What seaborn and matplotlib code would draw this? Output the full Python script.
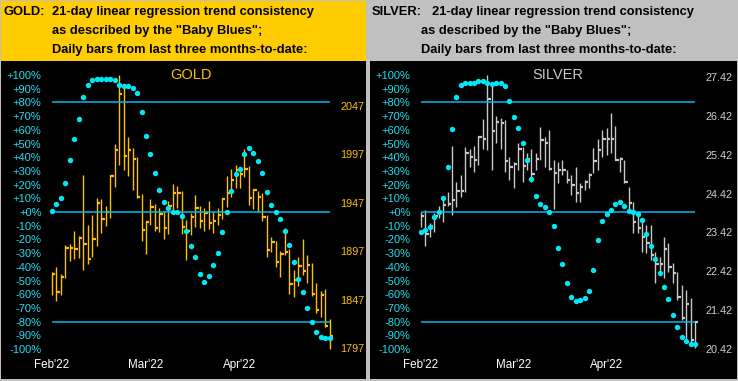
import numpy as np
import pandas as pd
import matplotlib
matplotlib.use("Agg")
import matplotlib.pyplot as plt
from matplotlib.patches import Rectangle
import seaborn as sns

sns.set_theme(style="dark")
plt.rcParams['font.family'] = ['Liberation Sans', 'DejaVu Sans']

W, H = 738, 381

# ---- data ----
gold_high = [1875.4, 1880.5, 1873.0, 1903.3, 1904.3, 1917.7, 1912.6, 1975.6, 1923.9, 1934.3,
             1951.8, 1950.8, 1943.6, 1975.2, 2007.6, 2078.6, 2068.9, 2014.8, 2003.5, 1994.2,
             1956.0, 1928.4, 1950.8, 1946.0, 1941.8, 1938.4, 1948.7, 1966.3, 1964.2, 1959.1,
             1929.1, 1936.3, 1954.9, 1943.6, 1941.8, 1948.7, 1937.4, 1941.5, 1951.8, 1974.6,
             1981.8, 1985.9, 1983.5, 2002.1, 1984.9, 1960.8, 1959.4, 1957.0, 1934.6, 1911.5,
             1907.0, 1896.7, 1920.8, 1899.5, 1877.4, 1890.9, 1909.8, 1892.9, 1884.7, 1864.0,
             1856.1, 1857.5, 1826.8]
gold_low = [1851.3, 1845.1, 1851.3, 1869.5, 1886.7, 1889.1, 1890.2, 1877.8, 1884.0, 1890.9,
            1902.6, 1915.7, 1923.2, 1931.5, 1963.2, 1986.3, 1981.1, 1974.9, 1960.4, 1952.2,
            1907.4, 1894.3, 1923.9, 1917.7, 1916.7, 1909.8, 1915.0, 1937.0, 1941.5, 1915.0,
            1888.1, 1913.9, 1921.9, 1921.2, 1918.1, 1920.1, 1916.0, 1923.6, 1930.5, 1942.9,
            1953.2, 1962.5, 1962.2, 1973.9, 1944.9, 1940.5, 1937.4, 1928.1, 1890.9, 1896.0,
            1880.9, 1870.5, 1892.6, 1853.0, 1849.2, 1860.6, 1871.9, 1864.3, 1850.2, 1833.3,
            1828.9, 1818.5, 1796.1]
gold_close = [1873.0, 1854.7, 1870.2, 1900.5, 1900.5, 1899.5, 1910.8, 1904.6, 1889.1, 1909.8,
              1947.0, 1930.5, 1937.4, 1974.9, 2001.8, 2058.6, 1995.2, 2001.8, 1992.5, 1953.2,
              1919.1, 1927.0, 1942.9, 1921.2, 1935.6, 1921.2, 1943.6, 1957.0, 1957.0, 1922.2,
              1917.7, 1932.5, 1941.8, 1928.4, 1936.7, 1926.3, 1928.4, 1934.6, 1950.4, 1957.3,
              1970.1, 1981.1, 1976.6, 1982.1, 1951.8, 1960.4, 1953.2, 1932.5, 1898.4, 1906.0,
              1886.0, 1894.3, 1896.4, 1862.6, 1867.4, 1881.9, 1876.7, 1882.3, 1853.0, 1836.4,
              1851.9, 1819.9, 1809.6]
gold_blues = [1, 6, 10.4, 21, 38, 53, 68, 84, 93, 96.5,
              97, 97, 97, 97, 96.5, 92.6, 92, 92, 90.4, 86.8,
              73, 55.5, 42.4, 28.6, 16.2, 7.5, 2.7, 0.2, 0.2, -2.7,
              -13.6, -25, -33.2, -45.3, -51.2, -47, -39, -29.6, -14.3, 0.2,
              15.5, 27.9, 31.5, 42.4, 46.8, 43.2, 37.3, 28.6, 14.8, 5.3,
              0.2, -4.8, -13.6, -23.8, -36.8, -49.2, -58.7, -70.3, -80.5, -87.8,
              -91.4, -92.1, -92.1]

silver_high = [23.95, 24.00, 23.65, 23.93, 24.11, 24.37, 24.45, 25.65, 24.73, 24.90,
               25.61, 25.56, 25.65, 25.91, 26.34, 27.48, 27.25, 26.42, 26.36, 26.32,
               25.37, 25.24, 25.72, 25.61, 25.46, 25.56, 25.46, 26.13, 25.89, 26.06,
               25.29, 25.24, 25.29, 25.03, 24.90, 25.11, 24.69, 24.77, 24.94, 25.59,
               25.84, 26.06, 26.10, 26.49, 26.16, 25.37, 25.29, 24.60, 24.21, 23.91,
               23.74, 23.61, 23.61, 22.92, 22.79, 23.31, 23.14, 22.62, 22.41, 22.06,
               21.93, 21.73, 21.12]
silver_low = [23.55, 23.08, 23.31, 23.44, 23.78, 23.70, 24.10, 23.87, 24.08, 24.34,
              24.47, 25.11, 24.99, 25.16, 25.56, 25.54, 25.03, 25.72, 25.58, 24.99,
              24.77, 24.56, 25.03, 24.73, 25.03, 24.71, 25.03, 25.29, 25.11, 25.03,
              24.02, 24.69, 24.90, 24.69, 24.38, 24.21, 24.21, 24.51, 24.56, 24.94,
              25.03, 25.37, 25.42, 25.46, 25.29, 24.99, 24.70, 24.00, 23.41, 23.41,
              22.92, 22.88, 22.71, 22.11, 22.32, 22.24, 22.41, 22.11, 21.68, 21.16,
              20.64, 20.56, 20.43]
silver_close = [23.85, 23.38, 23.58, 23.85, 23.95, 24.13, 24.15, 24.26, 24.50, 24.50,
                25.48, 25.37, 25.29, 25.87, 25.84, 26.86, 26.04, 26.26, 26.25, 25.27,
                25.10, 25.18, 25.56, 25.13, 25.31, 24.92, 25.31, 25.80, 25.73, 25.05,
                24.94, 25.03, 25.03, 24.77, 24.64, 24.44, 24.60, 24.73, 24.90, 25.27,
                25.54, 25.82, 25.83, 25.84, 25.29, 25.31, 24.71, 24.19, 23.70, 23.53,
                23.31, 23.15, 22.84, 22.60, 22.60, 22.99, 22.54, 22.38, 21.76, 21.20,
                21.57, 20.64, 21.10]
silver_blues = [-14.5, -13, -11, -4, 0, 10, 32.7, 60.3, 84, 93,
                94.5, 94, 94.5, 95.3, 95.3, 94, 93.3, 93.8, 94, 91.8,
                81, 69.3, 61.3, 50.4, 38, 24.2, 11.9, 6, 3.9, 0.2,
                -10, -26, -37.6, -52, -62.3, -65.2, -64.5, -63, -58, -42.7,
                -20.4, -6.5, -1.5, 1.5, 5.8, 7.3, 4.4, 0.7, 0, -1.5,
                -5.8, -16, -24.7, -34.2, -44.4, -54.5, -63.3, -74.9, -83.6, -90.9,
                -94.5, -96, -96]

month_labels = ["Feb'22", "Mar'22", "Apr'22"]
month_pos = [0, 21, 42]
pct_ticks = list(range(-100, 101, 10))
pct_lines = [80, 0, -80]
gold_price_ticks = [1797, 1847, 1897, 1947, 1997, 2047]
silver_price_ticks = [20.42, 21.42, 22.42, 23.42, 24.42, 25.42, 26.42, 27.42]

gold_header = ["21-day linear regression trend consistency",
               "as described by the \"Baby Blues\";",
               "Daily bars from last three months-to-date:"]

BAR_GOLD = '#FFC000'
BAR_SILVER = '#C8C8C8'
DOT = '#00E8F8'
LINE = '#00B8F0'
PCT_TXT = '#20E0F0'


def rect(fig, x, y, w, h, color):
    fig.add_artist(Rectangle((x / W, 1 - (y + h) / H), w / W, h / H,
                             transform=fig.transFigure, facecolor=color,
                             edgecolor='none', zorder=0))


def panel(fig, x0, x1, name, high, low, close, blues, bar_color, price_color,
          price_ticks, price_fmt, p_ref, y_ref, px_per_unit):
    # pixel geometry of the plot box
    top, bottom = 62, 356
    step = (x1 - x0) / (len(close) - 1)
    left, right = x0 - 5, x1 + 5
    ax = fig.add_axes([left / W, 1 - bottom / H, (right - left) / W, (bottom - top) / H])
    ax.set_facecolor('black')
    ax2 = ax.twinx()

    xlim = (-(x0 - left) / step, len(close) - 1 + (right - x1) / step)
    idx = np.arange(len(close))

    # price bars on ax (drawn first, below the dots)
    ax.vlines(idx, low, high, color=bar_color, lw=1.0)
    ax.hlines(close, idx, idx + 0.75, color=bar_color, lw=1.6)
    ax.set_xlim(*xlim)
    ax.set_ylim(p_ref - (bottom - y_ref) / px_per_unit, p_ref + (y_ref - top) / px_per_unit)
    ax.yaxis.tick_right()
    ax.set_yticks(price_ticks)
    ax.set_yticklabels([price_fmt.format(v) for v in price_ticks])
    ax.tick_params(axis='y', colors=price_color, labelsize=7.8, length=0, pad=4.3)

    # baby blues + reference lines on ax2
    ax2.hlines(pct_lines, 0, len(close) - 1, color=LINE, lw=1.1, zorder=1)
    df = pd.DataFrame({'day': idx, 'pct': blues})
    sns.scatterplot(data=df, x='day', y='pct', ax=ax2, color=DOT, s=15,
                    marker='o', linewidth=0, zorder=3)
    ax2.set_ylim((212 - bottom) / 1.37, (212 - top) / 1.37)
    ax2.yaxis.tick_left()
    ax2.set_yticks(pct_ticks)
    ax2.set_yticklabels([f"{v:+d}%" if v != 0 else "+0%" for v in pct_ticks])
    ax2.tick_params(axis='y', colors=PCT_TXT, labelsize=8.0, length=0, pad=4.0)
    ax2.set_xlim(*xlim)
    ax2.set_ylabel('')
    ax2.set_xlabel('')

    ax.set_xticks(month_pos)
    ax.set_xticklabels(month_labels)
    ax.tick_params(axis='x', colors='white', labelsize=8.4, length=0, pad=2.2)
    ax2.tick_params(axis='x', length=0)
    for a in (ax, ax2):
        a.grid(False)
        for s in a.spines.values():
            s.set_visible(False)

    ax2.text(0.5 * (len(close) - 1), (212 - 75) / 1.37, name, color=bar_color,
             fontsize=10.5, ha='center', va='center')


fig = plt.figure(figsize=(W / 100, H / 100), dpi=100)
fig.patch.set_facecolor('#C0C0C0')

# backgrounds
rect(fig, 1, 1, 365, 60, '#FFCC00')
rect(fig, 1, 61, 365, 318, 'black')
rect(fig, 370, 1, 367, 60, '#C0C0C0')
rect(fig, 370, 61, 367, 318, 'black')

# headers
hdr = dict(fontsize=9.3, fontweight='bold', color='black', va='center', ha='left')
ys = [11.7, 30.7, 50]
fig.text(4 / W, 1 - ys[0] / H, "GOLD:", **hdr)
for line, y in zip(gold_header, ys):
    fig.text(52 / W, 1 - y / H, line, **hdr)
fig.text(372 / W, 1 - ys[0] / H, "SILVER:", **hdr)
fig.text(432 / W, 1 - ys[0] / H, gold_header[0], **hdr)
fig.text(421 / W, 1 - ys[1] / H, gold_header[1], **hdr)
fig.text(421 / W, 1 - ys[2] / H, gold_header[2], **hdr)

panel(fig, 52, 329.5, "GOLD", gold_high, gold_low, gold_close, gold_blues,
      BAR_GOLD, BAR_GOLD, gold_price_ticks, "{:.0f}", 1922, 226.85, 0.9692)
panel(fig, 421, 695, "SILVER", silver_high, silver_low, silver_close, silver_blues,
      BAR_SILVER, '#D0D0D0', silver_price_ticks, "{:.2f}", 20.42, 348.7, 38.77)

fig.savefig("out.png", dpi=100, facecolor=fig.get_facecolor())
